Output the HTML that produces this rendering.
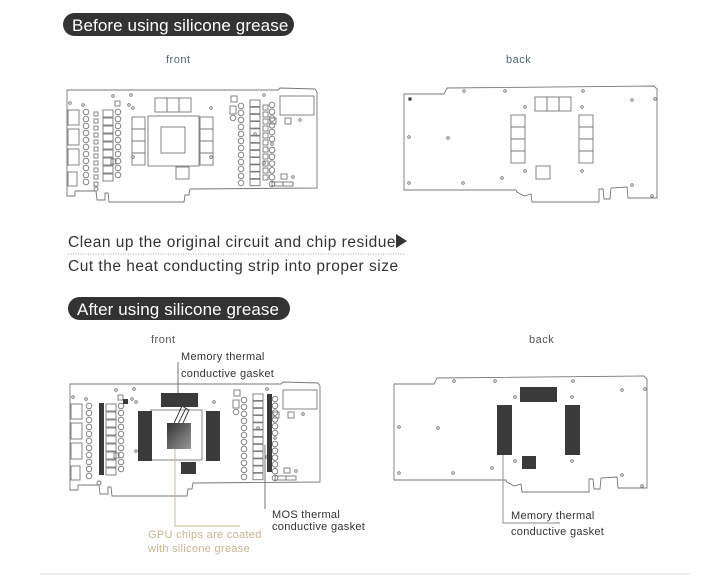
<!DOCTYPE html>
<html><head><meta charset="utf-8"><style>
html,body{margin:0;padding:0;background:#fff;}
svg{display:block;font-family:"Liberation Sans",sans-serif;}
</style></head><body>
<svg id="s" width="720" height="576" viewBox="0 0 720 576" xmlns="http://www.w3.org/2000/svg">
<rect width="720" height="576" fill="#fff"/>
<rect x="63" y="13" width="231" height="23" rx="11.5" fill="#333"/>
<text x="72" y="31" font-size="17" fill="#fff" letter-spacing="0.1">Before using silicone grease</text>
<rect x="68" y="297" width="222" height="23" rx="11.5" fill="#333"/>
<text x="77" y="315" font-size="17" fill="#fff" letter-spacing="0.1">After using silicone grease</text>
<text x="166" y="63" font-size="11" fill="#4a6a72" letter-spacing="0.5">front</text>
<text x="506" y="63" font-size="11" fill="#4a6a72" letter-spacing="0.5">back</text>
<text x="151" y="343" font-size="11" fill="#555" letter-spacing="0.5">front</text>
<text x="529" y="343" font-size="11" fill="#555" letter-spacing="0.5">back</text>
<text x="68" y="247" font-size="15.5" fill="#333" letter-spacing="0.5">Clean up the original circuit and chip residue</text>
<polygon points="396,234 407,241 396,248" fill="#333"/>
<line x1="68" y1="254" x2="405" y2="254" stroke="#aaa" stroke-dasharray="1,1.5"/>
<text x="68" y="271" font-size="15.5" fill="#333" letter-spacing="0.5">Cut the heat conducting strip into proper size</text>
<line x1="40" y1="574" x2="690" y2="574" stroke="#e6e8ea" stroke-width="1.5"/>
<g id="g" fill="none" stroke="#777" stroke-width="0.9"></g>
<g id="d" fill="#3a3a3a"></g>
<defs><linearGradient id="gg" x1="0" y1="0" x2="1" y2="1"><stop offset="0" stop-color="#333"/><stop offset="1" stop-color="#999"/></linearGradient></defs>
<text x="181" y="360" font-size="11" fill="#333" letter-spacing="0.3">Memory thermal</text>
<text x="181" y="377" font-size="11" fill="#333" letter-spacing="0.3">conductive gasket</text>
<text x="272" y="518" font-size="11" fill="#333" letter-spacing="0.3">MOS thermal</text>
<text x="272" y="530" font-size="11" fill="#333" letter-spacing="0.3">conductive gasket</text>
<text x="148" y="538" font-size="11" fill="#c9b38e" letter-spacing="0.3">GPU chips are coated</text>
<text x="148" y="552" font-size="11" fill="#c9b38e" letter-spacing="0.3">with silicone grease</text>
<text x="511" y="519" font-size="11" fill="#333" letter-spacing="0.3">Memory thermal</text>
<text x="511" y="535" font-size="11" fill="#333" letter-spacing="0.3">conductive gasket</text>
</svg>
<script>
var g=document.getElementById('g'),d=document.getElementById('d'),NS='http://www.w3.org/2000/svg';
function el(p,t,a){var e=document.createElementNS(NS,t);for(var k in a)e.setAttribute(k,a[k]);p.appendChild(e);return e;}
function R(x,y,w,h){el(g,'rect',{x:x,y:y,width:w,height:h});}
function D(x,y,w,h,f){el(d,'rect',{x:x,y:y,width:w,height:h,fill:f||'#3a3a3a'});}
function C(x,y,r){el(g,'circle',{cx:x,cy:y,r:r||1.3});}
function col(x,y0,n,st,r){for(var i=0;i<n;i++)C(x,y0+i*st,r);}
function rcol(x,y0,n,w,h,st){for(var i=0;i<n;i++)R(x,y0+i*st,w,h);}
function P(s){el(g,'path',{d:s});}
function L(s,c){el(g,'path',{d:s,stroke:c||'#777'});}
function front(ox,oy,after){
 var x=ox,y=oy;
 P('M'+x+','+(y+2)+' L'+(x+211)+','+(y+2)+' L'+(x+213)+','+y+' L'+(x+248)+','+(y+1)+' L'+(x+250)+','+(y+4)+' L'+(x+250)+','+(y+100)+' L'+(x+123)+','+(y+101)+' L'+(x+122)+','+(y+107)+' L'+(x+118)+','+(y+107)+' L'+(x+117)+','+(y+114)+' L'+(x+42)+','+(y+114)+' L'+(x+41)+','+(y+105)+' L'+(x+38)+','+(y+105)+' L'+(x+38)+','+(y+112)+' L'+(x+30)+','+(y+112)+' L'+(x+29)+','+(y+103)+' L'+(x+8)+','+(y+103)+' L'+(x+8)+','+(y+108)+' L'+x+','+(y+108)+' Z');
 R(x+1,y+22,11,15);R(x+1,y+41,11,16);R(x+1,y+61,11,16);R(x+1,y+84,9,14);
 col(x+19,y+24,11,7,2.8);
 if(after){D(x+29,y+21,5,72);}else{rcol(x+27,y+24,11,4,4,7);}
 rcol(x+36,y+22,9,10,7,8);
 col(x+51,y+24,10,7,2.8);
 C(x+3,y+15);C(x+16,y+17);C(x+46,y+8);C(x+64,y+7);C(x+62,y+17);R(x+48,y+13,5,5);R(x+44,y+71,5,5);
 C(x+197,y+7);C(x+188,y+46);C(x+197,y+75);C(x+233,y+32);C(x+226,y+89);C(x+29,y+101,2);
 R(x+81,y+28,51,50);
 if(after){
  D(x+68,y+29,14,50);D(x+136,y+29,14,50);D(x+91,y+11,37,14);D(x+111,y+80,15,12);
  el(d,'rect',{x:x+97,y:y+41,width:24,height:26,fill:'url(#gg)'});
  D(x+53,y+17,5,5);
 }else{
  R(x+94,y+39,24,26);rcol(x+65,y+29,4,13,12,12);rcol(x+133,y+29,4,13,12,12);
  R(x+88,y+10,12,14);R(x+100,y+10,12,14);R(x+112,y+10,12,14);R(x+109,y+79,13,12);
 }
 C(x+66,y+20);C(x+66,y+69);C(x+144,y+20);C(x+144,y+69);
 R(x+164,y+8,6,6);R(x+163,y+18,6,8);C(x+166,y+30,2.8);
 col(x+174,y+18,12,7,2.8);
 rcol(x+183,y+12,12,10,6.5,7.2);
 if(after){D(x+197,y+12,5,78);}else{rcol(x+196,y+17,11,5,5,7);}
 col(x+205,y+17,6,6.8,2.8);col(x+205,y+62,6,6.8,2.8);C(x+205,y+56);
 R(x+213,y+8,34,19);R(x+203,y+30,6,6);R(x+218,y+30,6,6);R(x+214,y+86,6,5);R(x+205,y+94,11,4);R(x+216,y+94,10,4);
}
front(67,88,false);front(70,382,true);
function back(ox,oy,after){
 var x=ox,y=oy;
 P('M'+x+','+(y+8)+' L'+(x+40)+','+(y+8)+' L'+(x+43)+','+(y+2)+' L'+(x+250)+','+y+' L'+(x+253)+','+(y+3)+' L'+(x+253)+','+(y+112)+' L'+(x+224)+','+(y+112)+' L'+(x+223)+','+(y+101)+' L'+(x+207)+','+(y+102)+' L'+(x+206)+','+(y+113)+' L'+(x+200)+','+(y+113)+' L'+(x+199)+','+(y+103)+' L'+(x+195)+','+(y+103)+' L'+(x+195)+','+(y+116)+' L'+(x+128)+','+(y+116)+' L'+(x+127)+','+(y+108)+' L'+(x+120)+','+(y+110)+' L'+(x+113)+','+(y+106)+' L'+(x+112)+','+(y+104)+' L'+x+','+(y+104)+' Z');
 C(x+60,y+5);C(x+101,y+5);C(x+179,y+5);C(x+228,y+14);C(x+251,y+13);C(x+5,y+51);C(x+44,y+52);C(x+5,y+97);C(x+59,y+97);C(x+98,y+92);
 C(x+121,y+21);C(x+178,y+21);C(x+121,y+85);C(x+178,y+85);C(x+228,y+99);C(x+248,y+110);
 if(after){D(x+126,y+11,37,15);D(x+103,y+29,15,50);D(x+171,y+29,15,50);D(x+128,y+80,14,13);}
 else{R(x+131,y+11,12,14);R(x+143,y+11,12,14);R(x+155,y+11,12,14);rcol(x+107,y+29,4,14,12,12);rcol(x+175,y+29,4,14,12,12);R(x+132,y+80,14,13);}
}
back(404,86,false);back(394,376,true);
el(g,'circle',{cx:410,cy:99,r:1.5,fill:'#333'});
L('M178,362 L178,404','#666');
L('M173,434 L186,408 M170,432 L182,406 L189,410 L177,436 Z M184,404 L190,400','#333');
L('M175,437 L175,526 L240,526','#c9b38e');
L('M265,445 L265,509','#666');
L('M503,432 L503,523 L560,523','#888');
</script>
</body></html>
